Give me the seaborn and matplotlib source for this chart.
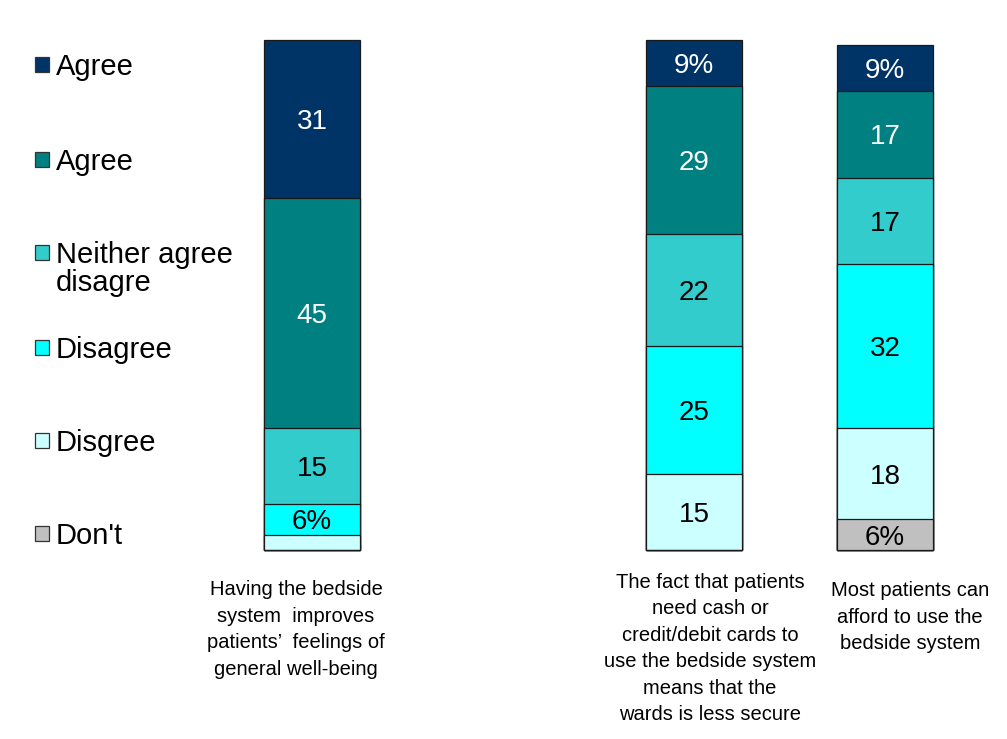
import matplotlib
matplotlib.use("Agg")
import matplotlib.pyplot as plt
from matplotlib.patches import Rectangle
import seaborn as sns
import pandas as pd
import numpy as np

# ---- data ----
categories = [
    "Having the bedside\nsystem  improves\npatients’  feelings of\ngeneral well-being",
    "",  # empty slot
    "The fact that patients\nneed cash or\ncredit/debit cards to\nuse the bedside system\nmeans that the\nwards is less secure",
    "Most patients can\nafford to use the\nbedside system",
]
series = ["Agree", "Agree", "Neither agree\ndisagre", "Disagree", "Disgree", "Don't"]
# values per series, for the three real categories (cat 0, 2, 3)
agree_strong = [31, 9, 9]
agree = [45, 29, 17]
neither = [15, 22, 17]
disagree = [6, 25, 32]
disagree_strong = [3, 15, 18]
dont_know = [0, 0, 6]
colors = ["#003366", "#008080", "#33CCCC", "#00FFFF", "#CCFFFF", "#C0C0C0"]
text_colors = ["white", "white", "black", "black", "black", "black"]

real_cats = [categories[0], categories[2], categories[3]]
values = [agree_strong, agree, neither, disagree, disagree_strong, dont_know]
# stacking order from bottom: Don't, Disgree, Disagree, Neither, Agree, Agree
stack = list(range(len(series)))[::-1]

sns.set_style("white")
plt.rcParams["font.family"] = ["Liberation Sans", "DejaVu Sans"]
plt.rcParams["text.color"] = "black"

W, H = 1007, 739
fig = plt.figure(figsize=(W / 100, H / 100), dpi=100)
ax = fig.add_axes([0, 0, 1, 1])

# cumulative sums from bottom
cum = np.zeros(len(real_cats))
tops = {}
for s in stack:
    cum = cum + np.array(values[s], dtype=float)
    tops[s] = cum.copy()

# draw cumulative bars from tallest (top series) to shortest
for s in stack[::-1]:
    df = pd.DataFrame({"cat": real_cats, "val": tops[s]})
    sns.barplot(data=df, x="cat", y="val", order=categories, color=colors[s],
                saturation=1, width=0.503, edgecolor="#1a1a1a", linewidth=0.9,
                ax=ax, errorbar=None)

# segment labels
pos = [categories.index(c) for c in real_cats]
for s in stack:
    for i, p in enumerate(pos):
        v = values[s][i]
        if v < 5:
            continue
        lab = f"{v}%" if v < 10 else f"{v}"
        ax.text(p, tops[s][i] - v / 2, lab, ha="center", va="center_baseline",
                fontsize=20, color=text_colors[s])

# axis scaling
ax.set_xlim(-312 / 191, (W - 312) / 191)
ax.set_ylim(-(H - 550) / 5.1, 550 / 5.1)
ax.axis("off")

# category labels below bars
offsets = [-0.084, 0, 0.084, 0.13]
label_tops = [-5.9, 0, -4.5, -6.1]
for i, c in enumerate(categories):
    if not c:
        continue
    ax.text(i + offsets[i], label_tops[i], c, ha="center", va="top",
            fontsize=14.5, linespacing=1.5,
            family=["Liberation Sans Narrow", "Liberation Sans", "DejaVu Sans"])

# legend (manual, left side)
leg_y = [64, 159, 252, 347, 440, 533]
for s, yc in zip(range(len(series)), leg_y):
    fig.patches.append(Rectangle((35 / W, 1 - (yc + 8) / H), 14 / W, 15 / H,
                                 transform=fig.transFigure, facecolor=colors[s],
                                 edgecolor="#333333", linewidth=0.9))
    fig.text(56 / W, 1 - (yc - 11) / H, series[s], ha="left", va="top",
             fontsize=21, linespacing=0.98)

fig.savefig("out.png", dpi=100)
